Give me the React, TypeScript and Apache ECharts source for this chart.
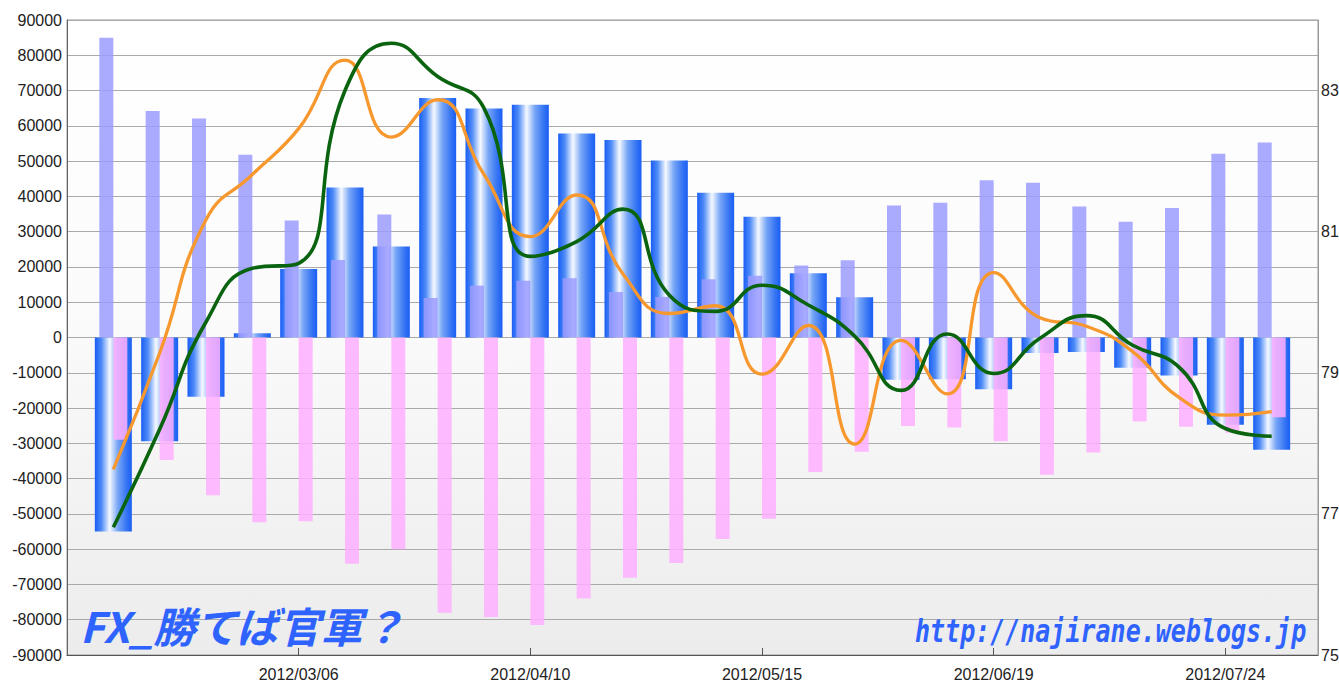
import React, { useEffect, useRef } from "react";
import * as echarts from "echarts";

const categories = [
  "2012/02/07", "2012/02/14", "2012/02/21", "2012/02/28", "2012/03/06",
  "2012/03/13", "2012/03/20", "2012/03/27", "2012/04/03", "2012/04/10",
  "2012/04/17", "2012/04/24", "2012/05/01", "2012/05/08", "2012/05/15",
  "2012/05/22", "2012/05/29", "2012/06/05", "2012/06/12", "2012/06/19",
  "2012/06/26", "2012/07/03", "2012/07/10", "2012/07/17", "2012/07/24",
  "2012/07/31",
];
const labelDates = ["2012/03/06", "2012/04/10", "2012/05/15", "2012/06/19", "2012/07/24"];

// light purple bars (positive)
const longPositions = [
  85000, 64200, 62100, 51800, 33200, 22000, 34900, 11200, 14700, 16100,
  16800, 12900, 11500, 16500, 17500, 20400, 21900, 37400, 38200, 44600,
  43900, 37100, 32800, 36700, 52100, 55300,
];
// pink bars (negative)
const shortPositions = [
  -29000, -34700, -44700, -52400, -52100, -64100, -60000, -78000, -79200, -81500,
  -74000, -68100, -63900, -57100, -51400, -38100, -32400, -25100, -25500, -29400,
  -38900, -32600, -23800, -25300, -27000, -22600,
];
// blue gradient bars
const netPositions = [
  -55000, -29400, -16800, 1200, 19400, 42500, 25800, 67900, 64900, 66000,
  57800, 56000, 50200, 41000, 34200, 18200, 11400, -12000, -11800, -14700,
  -4400, -4100, -8600, -10800, -24700, -31800,
];
// green line (right axis)
const greenRate = [
  76.81, 78.2, 79.72, 80.48, 80.55, 83.0, 83.67, 83.2, 82.75, 80.65,
  80.86, 81.32, 80.1, 79.87, 80.24, 79.96, 79.52, 78.75, 79.55, 78.99,
  79.49, 79.81, 79.39, 79.08, 78.21, 78.1,
];
// orange line (right axis)
const orangeRate = [
  77.63, 79.28, 81.17, 81.81, 82.46, 83.43, 82.34, 82.87, 81.81, 80.93,
  81.52, 80.4, 79.84, 79.95, 78.98, 79.67, 77.99, 79.46, 78.7, 80.42,
  79.78, 79.66, 79.3, 78.65, 78.4, 78.45,
];

const leftMin = -90000;
const leftMax = 90000;
const leftInterval = 10000;
const rightMin = 75;
const rightMax = 84;
const rightInterval = 1;

const pad = (a: (number | null)[]) => [null, ...a, null];

export default function App() {
  const ref = useRef<HTMLDivElement>(null);

  useEffect(() => {
    if (!ref.current) return;
    const chart = echarts.init(ref.current, null, { renderer: "svg" });
    const axisCats = ["", ...categories, ""];
    const showLabel = (_i: number, v: string) => labelDates.includes(v);
    const labelFont = {
      fontFamily: "Liberation Sans",
      fontSize: 16,
      color: "#222",
    };

    const blueGrad = new echarts.graphic.LinearGradient(0, 0, 1, 0, [
      { offset: 0, color: "#1a5ef5" },
      { offset: 0.18, color: "#4f8cf7" },
      { offset: 0.4, color: "#f6f9ff" },
      { offset: 0.62, color: "#78a6f6" },
      { offset: 0.86, color: "#3574f3" },
      { offset: 1, color: "#1a5ef5" },
    ]);

    chart.setOption({
      animation: false,
      backgroundColor: "#ffffff",
      grid: {
        left: 67,
        right: 21,
        top: 20,
        bottom: 26,
        containLabel: false,
        outerBoundsMode: "none",
        show: true,
        borderColor: "#999",
        borderWidth: 1,
        backgroundColor: new echarts.graphic.LinearGradient(0, 0, 0, 1, [
          { offset: 0, color: "#ffffff" },
          { offset: 0.45, color: "#fbfbfb" },
          { offset: 1, color: "#ececec" },
        ]),
      },
      xAxis: [
        {
          type: "category",
          data: axisCats,
          boundaryGap: false,
          axisLine: { onZero: false, lineStyle: { color: "#555" } },
          axisTick: {
            show: true,
            inside: true,
            length: 7,
            interval: showLabel,
            lineStyle: { color: "#555" },
          },
          axisLabel: { ...labelFont, interval: showLabel, margin: 11 },
          splitLine: { show: false },
        },
        {
          type: "category",
          data: axisCats,
          boundaryGap: false,
          show: false,
        },
      ],
      yAxis: [
        {
          type: "value",
          min: leftMin,
          max: leftMax,
          interval: leftInterval,
          axisLine: { show: true, lineStyle: { color: "#666" } },
          axisTick: { show: false },
          axisLabel: { ...labelFont, margin: 5, formatter: (v: number) => String(v) },
          splitLine: { show: true, lineStyle: { color: "#aaaaaa", width: 1 } },
        },
        {
          type: "value",
          min: rightMin,
          max: rightMax,
          interval: rightInterval,
          position: "right",
          axisLine: { show: true, lineStyle: { color: "#999" } },
          axisTick: { show: false },
          axisLabel: {
            ...labelFont,
            margin: 3,
            formatter: (v: number) => (Math.round(v) % 2 === 1 ? String(v) : ""),
          },
          splitLine: { show: false },
        },
      ],
      graphic: [
        {
          type: "text",
          x: 80,
          y: 624,
          z: 100,
          style: {
            text: "FX_勝てば官軍？",
            fill: "#2f63ff",
            fontFamily: "Noto Sans CJK JP",
            fontWeight: "bold",
            fontStyle: "italic",
            fontSize: 42,
            textVerticalAlign: "middle",
            textAlign: "left",
          },
        },
        {
          type: "text",
          x: 915,
          y: 631,
          scaleY: 1.3,
          z: 100,
          style: {
            text: "http://najirane.weblogs.jp",
            fill: "#2f63ff",
            fontFamily: "DejaVu Sans Mono",
            fontWeight: "bold",
            fontStyle: "italic",
            fontSize: 25,
            textVerticalAlign: "middle",
            textAlign: "left",
          },
        },
      ],
      series: [
        {
          type: "bar",
          name: "net",
          xAxisIndex: 0,
          yAxisIndex: 0,
          data: pad(netPositions),
          barWidth: 37,
          z: 2,
          itemStyle: { color: blueGrad },
        },
        {
          type: "bar",
          name: "long",
          xAxisIndex: 1,
          yAxisIndex: 0,
          data: pad(longPositions),
          barWidth: 14,
          barGap: "0%",
          z: 3,
          itemStyle: { color: "#9b9bff", opacity: 0.85 },
        },
        {
          type: "bar",
          name: "short",
          xAxisIndex: 1,
          yAxisIndex: 0,
          data: pad(shortPositions),
          barWidth: 14,
          barGap: "0%",
          z: 3,
          itemStyle: { color: "#ffafff", opacity: 0.85 },
        },
        {
          type: "line",
          name: "orange",
          xAxisIndex: 0,
          yAxisIndex: 1,
          data: pad(orangeRate),
          smooth: true,
          symbol: "none",
          z: 5,
          lineStyle: { color: "#f7982e", width: 3.3 },
        },
        {
          type: "line",
          name: "green",
          xAxisIndex: 0,
          yAxisIndex: 1,
          data: pad(greenRate),
          smooth: true,
          symbol: "none",
          z: 6,
          lineStyle: { color: "#0a640f", width: 3.6 },
        },
      ],
    });

    return () => chart.dispose();
  }, []);

  return (
    <div
      ref={ref}
      style={{ position: "fixed", left: 0, top: 0, width: 1339, height: 681 }}
    />
  );
}
